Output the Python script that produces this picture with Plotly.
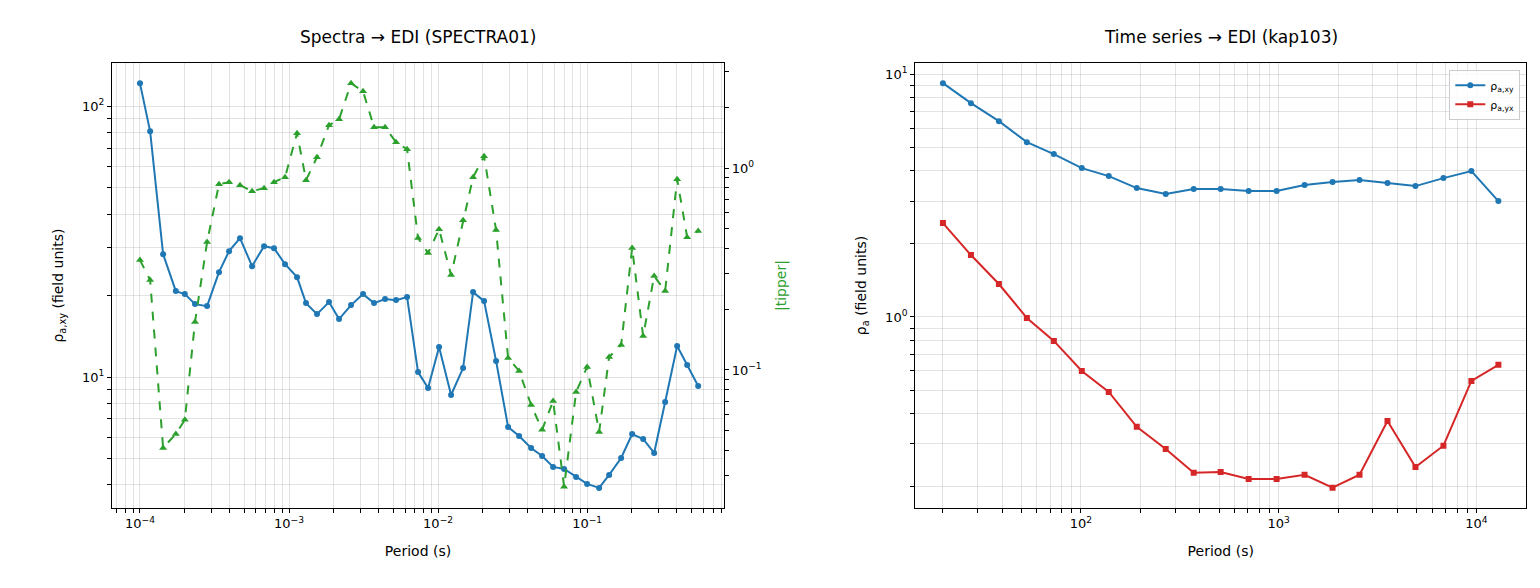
import numpy as np
import plotly.graph_objects as go

# Left panel (Spectra)
spec_period_log = [-4 + (x - 132) / 149 for x in [132,142,155,168,177,187,199,211,221,232,244,256,266,277,289,298,309,321,331,343,355,366,377,388,399,410,420,431,443,455,465,476,488,500,511,523,534,545,556,568,579,591,601,613,624,635,646,657,669,679,690]]
spec_period = [round(10 ** v, 6) for v in spec_period_log]
rho_xy_px = [75,123,246,283,286,296,298,264,243,230,258,238,240,256,269,295,306,294,311,297,286,295,291,292,289,364,380,339,387,360,284,293,353,419,428,440,448,459,461,469,476,480,467,450,426,431,445,394,338,357,378]
tip_px = [252,272,440,426,412,314,234,176,174,177,183,180,174,169,125,172,149,117,111,75,83,119,119,134,141,230,245,221,267,212,169,148,222,350,363,397,422,393,479,384,359,424,349,337,240,328,268,283,171,229,223]
spec_rho_xy = [round(10 ** (2 - (y - 98) / 271), 3) for y in rho_xy_px]
spec_tipper = [round(10 ** (-(y - 160) / 202), 4) for y in tip_px]

# Right panel (Time series)
ts_period = [round(10 ** (2 + (x - 1073) / 198), 2) for x in [935,963,991,1019,1046,1074,1101,1129,1158,1186,1213,1241,1269,1297,1325,1352,1380,1408,1436,1464,1491]]
ts_rho_xy = [round(10 ** (1 - (y - 66) / 243), 3) for y in [75,95,113,134,146,160,168,180,186,181,181,183,183,177,174,172,175,178,170,163,193]]
ts_rho_yx = [round(10 ** (1 - (y - 66) / 243), 3) for y in [215,247,276,310,333,363,384,419,441,465,464,471,471,467,480,467,413,459,438,373,357]]

BLUE, GREEN, RED = "#1f77b4", "#2ca02c", "#d62728"
FONT = "DejaVu Sans"

fig = go.Figure()
fig.add_trace(go.Scatter(x=spec_period, y=spec_rho_xy, mode="lines+markers", line=dict(color=BLUE, width=2),
                         marker=dict(size=6), showlegend=False, xaxis="x", yaxis="y"))
fig.add_trace(go.Scatter(x=spec_period, y=spec_tipper, mode="lines+markers", line=dict(color=GREEN, width=2, dash="dash"),
                         marker=dict(size=7, symbol="triangle-up"), showlegend=False, xaxis="x", yaxis="y2"))
fig.add_trace(go.Scatter(x=ts_period, y=ts_rho_xy, mode="lines+markers", line=dict(color=BLUE, width=2),
                         marker=dict(size=6), name="ρ<sub>a,xy</sub>", xaxis="x2", yaxis="y3"))
fig.add_trace(go.Scatter(x=ts_period, y=ts_rho_yx, mode="lines+markers", line=dict(color=RED, width=2),
                         marker=dict(size=6, symbol="square"), name="ρ<sub>a,yx</sub>", xaxis="x2", yaxis="y3"))

def sup(e):
    return "10<sup>%s</sup>" % str(e).replace("-", "−")

def logticks(lo, hi):
    vals, texts = [], []
    for e in range(lo, hi + 1):
        for m in range(1, 10):
            vals.append(m * 10.0 ** e)
            texts.append(sup(e) if m == 1 else "")
    return vals, texts

grid = "rgba(0,0,0,0.11)"
common = dict(type="log", showline=True, linecolor="black", mirror=True, ticks="outside", tickcolor="black",
              ticklen=4, gridcolor=grid, showgrid=True, zeroline=False, automargin=False,
              tickfont=dict(size=13, color="black"))

lx = logticks(-5, 0)
ly = logticks(0, 2)
rx = logticks(1, 4)
ry = logticks(-1, 1)
t2 = logticks(-2, 0)

fig.update_layout(
    width=1540, height=588, plot_bgcolor="white", paper_bgcolor="white",
    margin=dict(l=0, r=0, t=0, b=0), font=dict(family=FONT, size=13, color="black"),
    xaxis=dict(**common, domain=[0.0675, 0.465], range=[-4.188, -0.081], anchor="y",
               tickvals=lx[0], ticktext=lx[1], title=dict(text="Period (s)", font=dict(size=14))),
    yaxis=dict(**common, domain=[0.150, 0.906], range=[0.517, 2.159], anchor="x",
               tickvals=ly[0], ticktext=ly[1],
               title=dict(text="ρ<sub>a,xy</sub> (field units)", font=dict(size=14))),
    yaxis2=dict(type="log", overlaying="y", side="right", anchor="x", range=[-1.683, 0.520], showgrid=False,
                ticks="outside", tickcolor="black", ticklen=4, tickvals=t2[0], ticktext=t2[1],
                tickfont=dict(size=13), automargin=False,
                title=dict(text="|tipper|", font=dict(size=14, color=GREEN))),
    xaxis2=dict(**common, domain=[0.589, 0.986], range=[1.162, 4.253], anchor="y3",
                tickvals=rx[0], ticktext=rx[1], title=dict(text="Period (s)", font=dict(size=14))),
    yaxis3=dict(**common, domain=[0.150, 0.906], range=[-0.786, 1.045], anchor="x2",
                tickvals=ry[0], ticktext=ry[1],
                title=dict(text="ρ<sub>a</sub> (field units)", font=dict(size=14))),
    legend=dict(x=0.982, y=0.895, xanchor="right", yanchor="top", bordercolor="#cccccc", borderwidth=1,
                bgcolor="rgba(255,255,255,0.8)", font=dict(size=11)),
    annotations=[
        dict(text="Spectra → EDI (SPECTRA01)", x=0.266, y=0.93, xref="paper", yref="paper", showarrow=False,
             xanchor="center", yanchor="bottom", font=dict(size=17)),
        dict(text="Time series → EDI (kap103)", x=0.7875, y=0.93, xref="paper", yref="paper", showarrow=False,
             xanchor="center", yanchor="bottom", font=dict(size=17)),
    ],
)
fig.write_html("out.html")
